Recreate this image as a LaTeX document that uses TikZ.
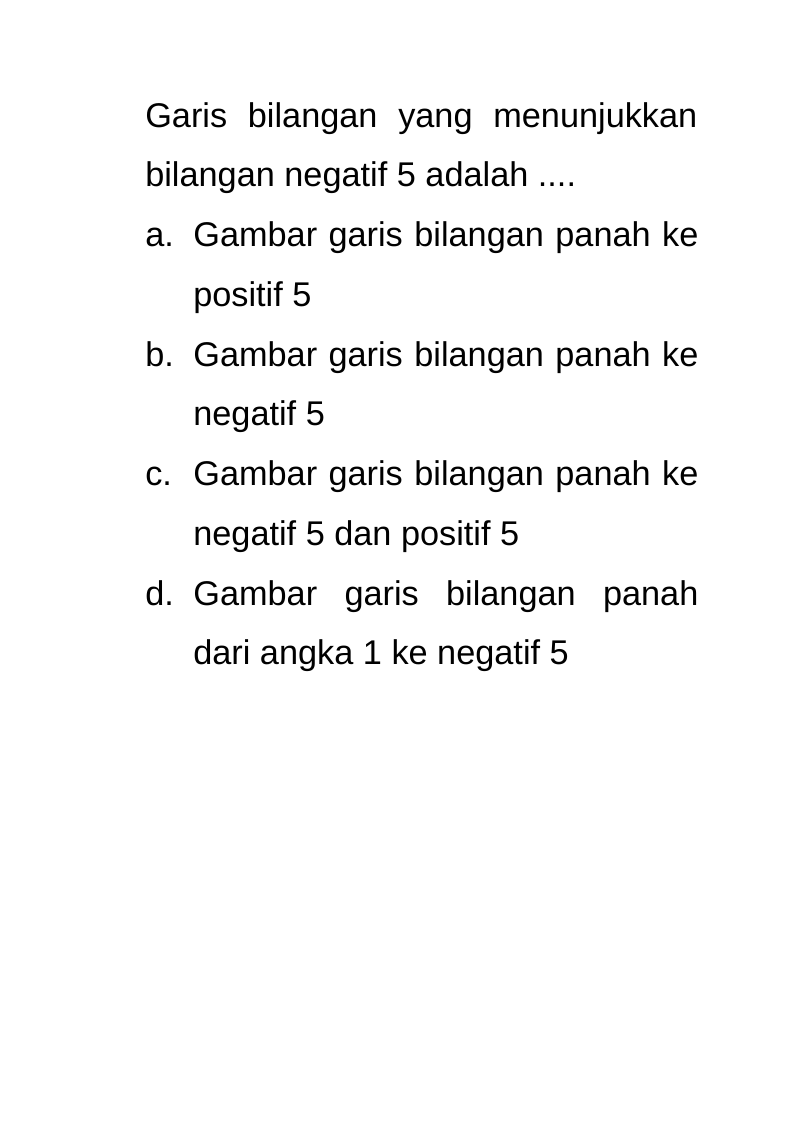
\documentclass[tikz,border=0pt]{standalone}
\usepackage{fontspec}
\setmainfont{Liberation Sans}
\usetikzlibrary{positioning}
\hyphenpenalty=10000

\tikzset{
    soal/.style={anchor=base west, inner sep=0pt, align=justify,
        font=\fontsize{25.8}{44.9}\selectfont},
    huruf/.style={anchor=base west, inner sep=0pt,
        font=\fontsize{25.8}{44.9}\selectfont}
}

\begin{document}
\begin{tikzpicture}[scale=1 , every node/.style={} ]
    \useasboundingbox (0,0) rectangle (21,-29.7);

    \node[soal, text width=14.6cm] (tanya) at (3.836,-3.36)
        {Garis bilangan yang menunjukkan\linebreak bilangan negatif 5 adalah ....};

    \foreach \h/\isi [count=\i from 0] in {
        a/{Gambar garis bilangan panah ke\linebreak positif 5},
        b/{Gambar garis bilangan panah ke\linebreak negatif 5},
        c/{Gambar garis bilangan panah ke\linebreak negatif 5 dan positif 5},
        d/{Gambar garis bilangan panah\linebreak dari angka 1 ke negatif 5}}
    {
        \node[huruf] (huruf_\h) at (3.836,-6.521-3.161*\i) {\h.};
        \node[soal, text width=13.36cm] (pil_\h) at (5.106,-6.521-3.161*\i) {\isi};
    }

\end{tikzpicture}
\end{document}
